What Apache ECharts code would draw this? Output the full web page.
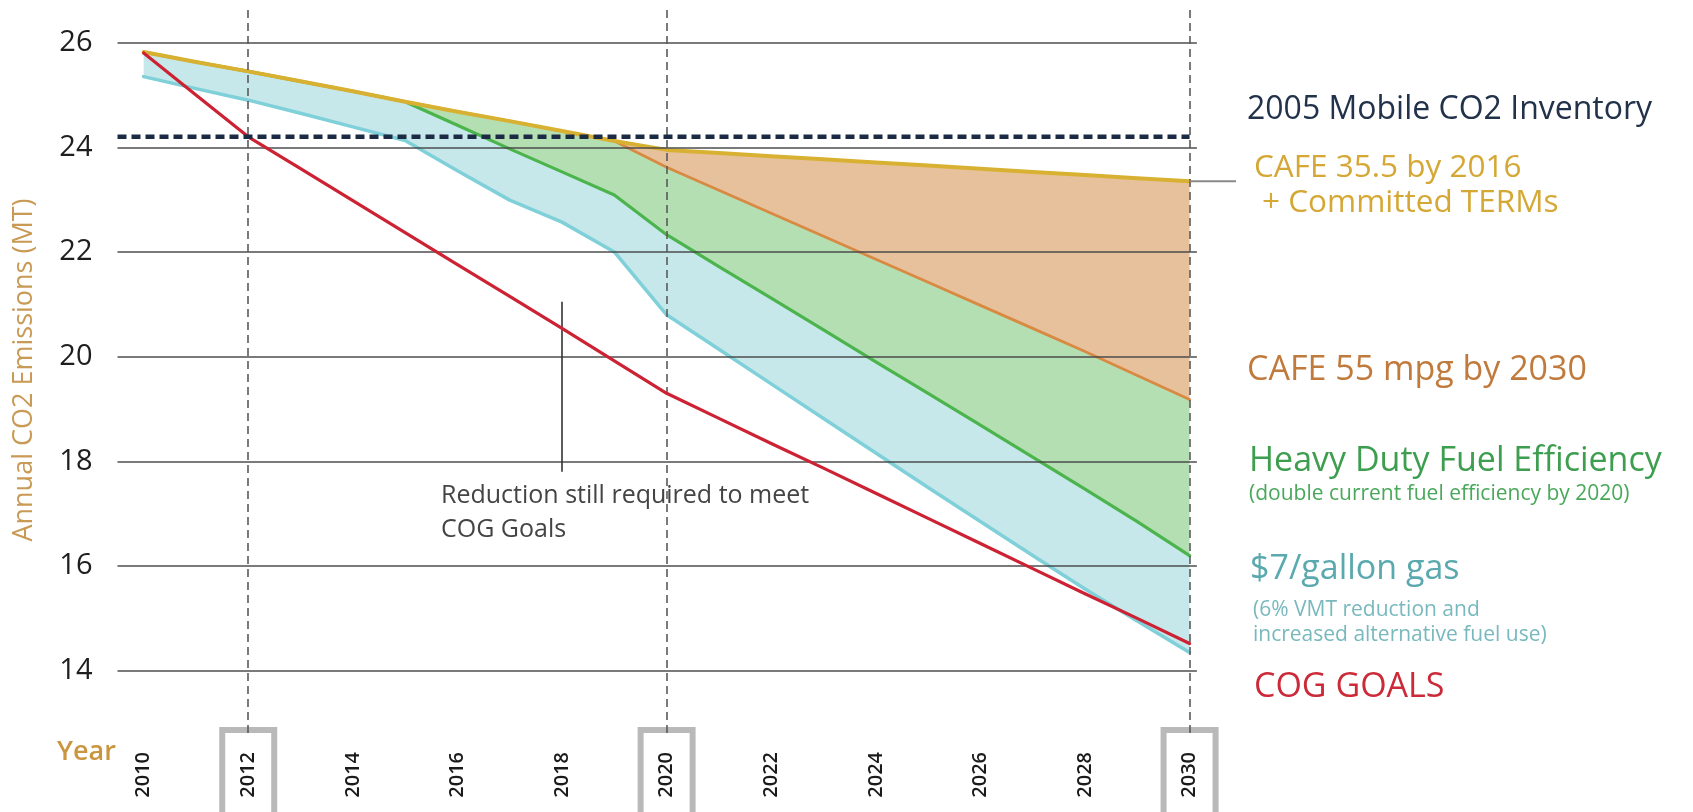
<!DOCTYPE html>
<html>
<head>
<meta charset="utf-8">
<script src="https://cdn.jsdelivr.net/npm/echarts@6/dist/echarts.min.js"></script>
<style>
  html, body { margin: 0; padding: 0; background: #ffffff; }
  #chart { width: 1693px; height: 812px; }
</style>
</head>
<body>
<div id="chart"></div>
<script>
// Annual CO2 emissions (MT) under each scenario, 2010-2030
const years = [2010, 2011, 2012, 2013, 2014, 2015, 2016, 2017, 2018, 2019, 2020,
               2021, 2022, 2023, 2024, 2025, 2026, 2027, 2028, 2029, 2030];

// CAFE 35.5 by 2016 + Committed TERMs
const cafe355 = [25.82, 25.63, 25.45, 25.26, 25.07, 24.87, 24.68, 24.50, 24.31, 24.12, 23.95,
                 23.89, 23.83, 23.77, 23.71, 23.65, 23.59, 23.53, 23.47, 23.41, 23.35];
// CAFE 55 mpg by 2030
const cafe55 = [25.82, 25.63, 25.45, 25.26, 25.07, 24.87, 24.68, 24.50, 24.31, 24.12, 23.62,
                23.18, 22.74, 22.30, 21.86, 21.42, 20.98, 20.54, 20.10, 19.64, 19.18];
// Heavy Duty Fuel Efficiency
const heavyDuty = [25.82, 25.63, 25.45, 25.26, 25.07, 24.87, 24.42, 23.97, 23.53, 23.09, 22.33,
                   21.72, 21.12, 20.51, 19.90, 19.30, 18.69, 18.08, 17.47, 16.85, 16.20];
// $7/gallon gas
const gas7 = [25.35, 25.12, 24.90, 24.65, 24.39, 24.13, 23.55, 22.99, 22.57, 22.00, 20.80,
              20.14, 19.48, 18.82, 18.16, 17.50, 16.85, 16.20, 15.56, 14.95, 14.35];
// COG goals
const cogGoals = [25.80, 25.00, 24.20, 23.59, 22.98, 22.37, 21.76, 21.15, 20.54, 19.92, 19.30,
                  18.82, 18.34, 17.87, 17.39, 16.91, 16.43, 15.95, 15.47, 15.00, 14.52];

// 2005 mobile CO2 inventory level
const inventory2005 = 24.2;

// Axis tick labels
const xTickLabels = [2010, 2012, 2014, 2016, 2018, 2020, 2022, 2024, 2026, 2028, 2030];
const boxedYears = [2012, 2020, 2030];
const yTickLabels = [14, 16, 18, 20, 22, 24, 26];

// Annotation: year of the "reduction still required" marker and its span
const gapMarkerYear = 2018;
const gapMarkerSpan = [21.05, 17.8];

const FONT = "'Open Sans', 'Noto Sans', 'DejaVu Sans', sans-serif";

const X_MIN = 2009.5, X_MAX = 2030.14;
const Y_MIN = 12.81, Y_MAX = 26.68;

const pts = arr => years.map((y, i) => [y, arr[i]]);

// Shaded bands between consecutive scenario curves
const bands = [
  { top: cafe355,   bottom: cafe55,    color: '#e6c19c' },
  { top: cafe55,    bottom: heavyDuty, color: '#b4dfb3' },
  { top: heavyDuty, bottom: gas7,      color: '#c6e8ea' }
];

const line = (name, arr, color, width, z) => ({
  name, type: 'line', data: pts(arr), symbol: 'none', silent: true, z,
  lineStyle: { color, width, cap: 'round', join: 'round' }
});

const chart = echarts.init(document.getElementById('chart'), null, { renderer: 'canvas' });

const option = {
  animation: false,
  backgroundColor: '#ffffff',
  grid: { left: 117.5, right: 496.1, top: 7, bottom: 79, containLabel: false, outerBoundsMode: 'none' },
  xAxis: {
    type: 'value', min: X_MIN, max: X_MAX,
    axisLine: { show: false }, axisTick: { show: false }, splitLine: { show: false },
    axisLabel: {
      customValues: xTickLabels,
      rotate: 90, margin: 0,
      formatter: v => (boxedYears.includes(v) ? '{b|' + v + '}' : '{n|' + v + '}'),
      rich: {
        n: { fontFamily: FONT, fontSize: 20, fontWeight: 600, lineHeight: 20, color: '#1a1a1a',
             padding: [13, 19, 13, 19] },
        b: { fontFamily: FONT, fontSize: 20, fontWeight: 600, lineHeight: 20, color: '#1a1a1a',
             padding: [13, 19, 13, 19], backgroundColor: '#ffffff',
             borderColor: '#b9b9b9', borderWidth: 6 }
      }
    }
  },
  yAxis: {
    type: 'value', min: Y_MIN, max: Y_MAX,
    name: 'Annual CO2 Emissions (MT)', nameLocation: 'middle', nameRotate: 90, nameGap: 80,
    nameTextStyle: { fontFamily: FONT, fontSize: 27, color: '#c99a55' },
    axisLine: { show: false }, axisTick: { show: false }, splitLine: { show: false },
    axisLabel: {
      customValues: yTickLabels, margin: 25,
      fontFamily: FONT, fontSize: 29, color: '#1e1e1e', padding: [0, 0, 10, 0]
    }
  },
  series: [
    {
      name: 'scenario bands', type: 'custom', z: 1, silent: true, clip: true,
      data: bands.map((b, i) => [i]),
      renderItem: (params, api) => {
        const b = bands[params.dataIndex];
        const upper = years.map((y, i) => api.coord([y, b.top[i]]));
        const lower = years.map((y, i) => api.coord([y, b.bottom[i]])).reverse();
        return {
          type: 'polygon', silent: true,
          shape: { points: upper.concat(lower) },
          style: { fill: b.color, stroke: null }
        };
      }
    },
    {
      name: 'grid', type: 'line', data: [], z: 2, silent: true,
      markLine: {
        silent: true, symbol: 'none', label: { show: false },
        lineStyle: { color: 'rgba(70,70,70,0.72)', width: 2, type: 'solid' },
        data: yTickLabels.map(v => ({ yAxis: v }))
      }
    },
    {
      name: 'milestones', type: 'line', data: [], z: 2, silent: true,
      markLine: {
        silent: true, symbol: 'none', label: { show: false },
        lineStyle: { color: '#5a5a5a', width: 1.6, type: [8, 5] },
        data: boxedYears.map(v => ({ xAxis: v }))
      }
    },
    {
      name: 'gap marker', type: 'line', data: [], z: 2, silent: true,
      markLine: {
        silent: true, symbol: 'none', label: { show: false },
        lineStyle: { color: '#333333', width: 1.6, type: 'solid' },
        data: [[{ coord: [gapMarkerYear, gapMarkerSpan[0]] }, { coord: [gapMarkerYear, gapMarkerSpan[1]] }]]
      }
    },
    line('$7/gallon gas', gas7, '#7fd0d8', 3.5, 3),
    line('Heavy Duty Fuel Efficiency', heavyDuty, '#4cb44c', 3.2, 3),
    line('CAFE 55 mpg by 2030', cafe55, '#d98a42', 2.8, 3),
    line('CAFE 35.5 by 2016 + Committed TERMs', cafe355, '#d9b132', 4, 4),
    line('COG GOALS', cogGoals, '#cc2233', 3.2, 5),
    {
      name: '2005 Mobile CO2 Inventory', type: 'line', symbol: 'none', silent: true, z: 6,
      data: [[X_MIN, inventory2005], [2030, inventory2005]],
      lineStyle: { color: '#1c2b44', width: 4.5, type: [9, 5] }
    }
  ]
};

chart.setOption(option);

// Right-hand labels and annotations
const txt = (text, x, y, color, size, weight) => ({
  type: 'text', x, y, silent: true, z: 100,
  style: {
    text, fill: color, font: (weight || 'normal') + ' ' + size + 'px ' + FONT,
    align: 'left', verticalAlign: 'middle', textAlign: 'left', textVerticalAlign: 'middle'
  }
});

const endPx = chart.convertToPixel({ gridIndex: 0 }, [2030, cafe355[cafe355.length - 1]]);

chart.setOption({
  graphic: [
    {
      type: 'line', silent: true, z: 50,
      shape: { x1: endPx[0], y1: endPx[1], x2: 1236, y2: endPx[1] },
      style: { stroke: '#8a8a8a', lineWidth: 2 }
    },
    txt('2005 Mobile CO2 Inventory', 1247, 110, '#22324a', 32),
    txt('CAFE 35.5 by 2016', 1254, 168, '#d5a836', 31.5),
    txt('+ Committed TERMs', 1262, 203, '#d5a836', 31.5),
    txt('CAFE 55 mpg by 2030', 1247, 370, '#c07a3c', 34),
    txt('Heavy Duty Fuel Efficiency', 1249, 461, '#3d9e4f', 34),
    txt('(double current fuel efficiency by 2020)', 1249, 494, '#4aa85a', 21),
    txt('$7/gallon gas', 1250, 569, '#5aa9ae', 34),
    txt('(6% VMT reduction and', 1253, 610, '#79b9bd', 21),
    txt('increased alternative fuel use)', 1253, 635, '#79b9bd', 21),
    txt('COG GOALS', 1254, 687, '#cc2a38', 34),
    txt('Reduction still required to meet', 441, 496, '#444444', 25),
    txt('COG Goals', 441, 530, '#444444', 25),
    txt('Year', 57, 752, '#c9953f', 27, 600)
  ]
});
</script>
</body>
</html>
